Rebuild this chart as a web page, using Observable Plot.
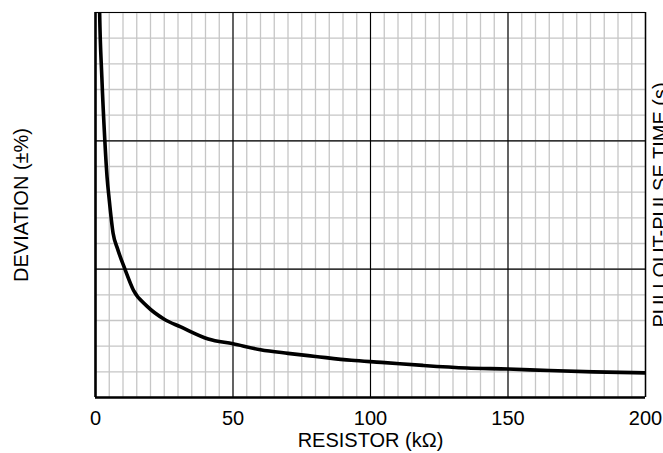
<!DOCTYPE html>
<html><head><meta charset="utf-8">
<script src="https://cdn.jsdelivr.net/npm/d3@7"></script>
<script src="https://cdn.jsdelivr.net/npm/@observablehq/plot@0.6"></script>
<style>
body{margin:0;background:#fff}
svg{font-family:"Liberation Sans",Arial,Helvetica,sans-serif}
</style>
</head><body><div id="chart"></div>
<script>
// Curve values
const resistor  = [1.2, 1.5, 2.3, 3.4, 4.2, 5.0, 6.4, 8.0, 10.7, 13.8, 18.8, 25, 31, 41, 50, 60, 70, 80, 93, 104, 119, 135, 150, 165, 181, 200];
const deviation = [17.0, 15.0, 12.5, 10.0, 8.6, 7.7, 6.4, 5.8, 5.0, 4.18, 3.55, 3.05, 2.75, 2.28, 2.09, 1.86, 1.72, 1.6, 1.45, 1.37, 1.25, 1.15, 1.11, 1.05, 1.0, 0.96];
const xTicks = [0, 50, 100, 150, 200];
const xMajor = [50, 100, 150];
const yMajor = [5, 10];
const xLabel = "RESISTOR (kΩ)";
const yLabel = "DEVIATION (±%)";
const y2Label = "PULLOUT-PULSE TIME (s)";

const data = resistor.map((r, i) => ({r, d: deviation[i]}));
const minorX = d3.range(0, 201, 5);
const minorY = d3.range(0, 16, 1);

const chart = Plot.plot({
  width: 663, height: 453,
  marginLeft: 95, marginRight: 18, marginTop: 12, marginBottom: 56,
  x: {domain: [0, 200]},
  y: {domain: [0, 15], axis: null},
  style: {background: "white", fontFamily: "'Liberation Sans', Arial, sans-serif", fontSize: "20px", color: "black"},
  marks: [
    Plot.gridX(minorX, {stroke: "#c6c6c6", strokeOpacity: 1, strokeWidth: 1.3}),
    Plot.gridY(minorY, {stroke: "#c6c6c6", strokeOpacity: 1, strokeWidth: 1.3}),
    Plot.gridX(xMajor, {stroke: "black", strokeOpacity: 1, strokeWidth: 1.1}),
    Plot.gridY(yMajor, {stroke: "black", strokeOpacity: 1, strokeWidth: 1.1}),
    Plot.ruleX([200], {stroke: "black", strokeWidth: 1.5}),
    Plot.ruleY([15], {stroke: "black", strokeWidth: 1.2}),
    Plot.ruleX([0], {stroke: "black", strokeWidth: 2.6}),
    Plot.ruleY([0], {stroke: "black", strokeWidth: 2.4}),
    Plot.line(data, {x: "r", y: "d", stroke: "black", strokeWidth: 3.6, curve: "monotone-x", clip: true}),
    Plot.axisX(xTicks, {tickSize: 0, tickPadding: 13, label: null, fontSize: 20, fill: "black"}),
    Plot.text([xLabel], {text: d => d, frameAnchor: "bottom", textAnchor: "middle", lineAnchor: "middle", dy: 43, fontSize: 20, fill: "black"}),
    Plot.text([yLabel], {text: d => d, frameAnchor: "left", textAnchor: "middle", lineAnchor: "middle", dx: -74, rotate: -90, fontSize: 20, fill: "black"}),
    Plot.text([y2Label], {text: d => d, frameAnchor: "right", textAnchor: "middle", lineAnchor: "middle", dx: 15, rotate: -90, fontSize: 20, fill: "black"})
  ]
});
document.getElementById("chart").appendChild(chart);
</script>
</body></html>
